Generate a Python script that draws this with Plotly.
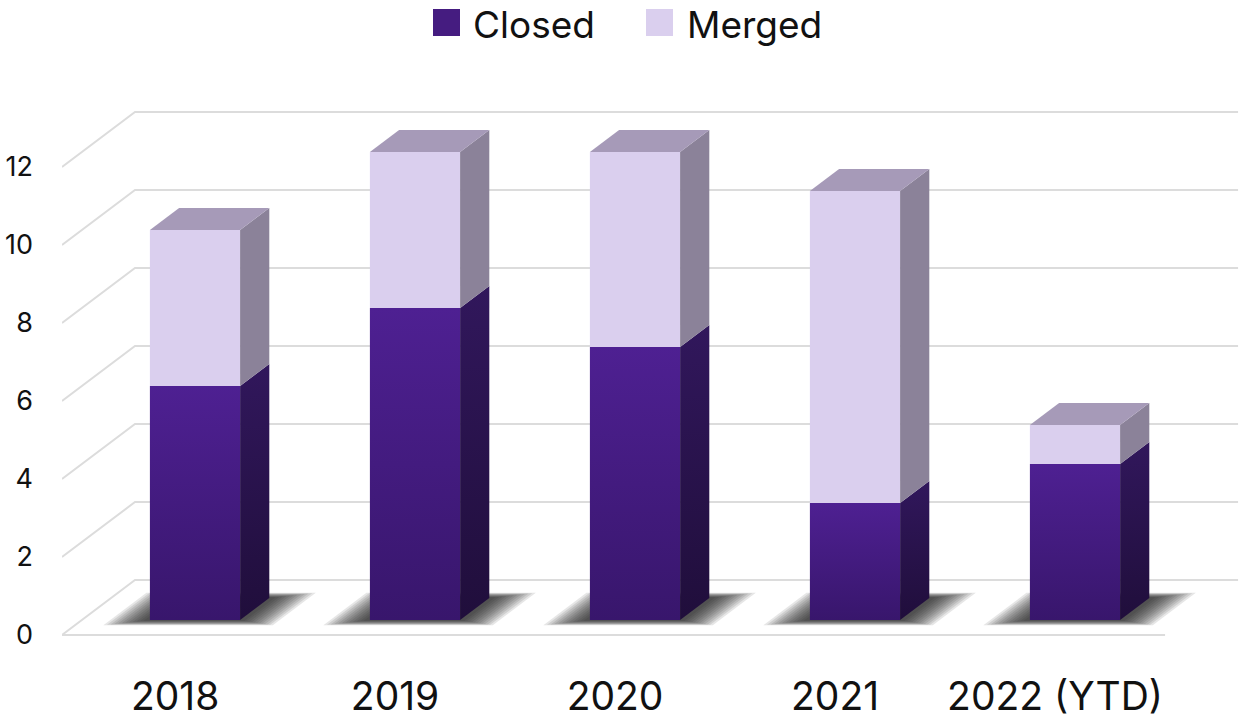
import plotly.graph_objects as go

# ---- data ----
years = ["2018", "2019", "2020", "2021", "2022 (YTD)"]
closed = [6, 8, 7, 3, 4]
merged = [4, 4, 5, 8, 1]
y_ticks = [0, 2, 4, 6, 8, 10, 12]
series_names = ["Closed", "Merged"]

# ---- pseudo-3D oblique projection ----
# Axis coordinates are the bar front plane: x in category units, y in value units.
KX, KY = 0.3318, 1.41          # screen shift across the full floor depth
D_FRONT, D_BACK = 0.273, 0.673  # depth of bar front / back faces
HALF_W = 0.205                  # half bar width (category units)
BOX_L, BOX_R = -0.514, 4.5      # floor/wall extent in category units

GRID = "#dcdcdc"
CLOSED_FRONT = ["#38166c", "#4e2092"]   # bottom, top
CLOSED_SIDE = ["#200e3b", "#31175c"]
MERGED_FRONT = "#dacfee"
MERGED_SIDE = "#8b8299"
TOP_FACE = "#a69ab8"


def proj(c, v, d):
    return c + (d - D_FRONT) * KX, v + (d - D_FRONT) * KY


def poly(points):
    xs, ys = [], []
    for c, v, d in points:
        x, y = proj(c, v, d)
        xs.append(x)
        ys.append(y)
    xs.append(xs[0])
    ys.append(ys[0])
    return xs, ys


fig = go.Figure()

# ---- back wall grid, left wall diagonals and floor front edge ----
gx, gy = [], []
for v in y_ticks:
    for pt in [(BOX_L, v, 0.0), (BOX_L, v, 1.0), (BOX_R, v, 1.0)]:
        x, y = proj(*pt)
        gx.append(x)
        gy.append(y)
    gx.append(None)
    gy.append(None)
for pt in [(BOX_L, 0, 0.0), (BOX_R, 0, 0.0)]:
    x, y = proj(*pt)
    gx.append(x)
    gy.append(y)
fig.add_trace(go.Scatter(x=gx, y=gy, mode="lines",
                         line=dict(color=GRID, width=2),
                         hoverinfo="skip", showlegend=False))

# ---- soft floor shadows (many stacked translucent layers fake a blur) ----
n_layers = 12
shadow_layers = [(0.17 * (1 - k / n_layers) + 0.01, 0.09 * (1 - k / n_layers) + 0.005)
                 for k in range(n_layers)]
for i in range(len(years)):
    for ec, ed in shadow_layers:
        xs, ys = poly([(i - HALF_W - ec, 0, D_FRONT - ed),
                       (i + HALF_W + ec, 0, D_FRONT - ed),
                       (i + HALF_W + ec, 0, D_BACK + ed),
                       (i - HALF_W - ec, 0, D_BACK + ed)])
        fig.add_trace(go.Scatter(x=xs, y=ys, mode="lines", fill="toself",
                                 fillcolor="rgba(30,30,30,0.11)",
                                 line=dict(width=0), hoverinfo="skip",
                                 showlegend=False))

# ---- stacked 3D bars ----
for i, year in enumerate(years):
    l, r = i - HALF_W, i + HALF_W
    segments = [(0, closed[i], "Closed"), (closed[i], closed[i] + merged[i], "Merged")]
    for v0, v1, name in segments:
        # front face
        xs, ys = poly([(l, v0, D_FRONT), (r, v0, D_FRONT), (r, v1, D_FRONT), (l, v1, D_FRONT)])
        if name == "Closed":
            fig.add_trace(go.Scatter(
                x=xs, y=ys, mode="lines", fill="toself", line=dict(width=0),
                fillgradient=dict(type="vertical",
                                  colorscale=[[0, CLOSED_FRONT[0]], [1, CLOSED_FRONT[1]]]),
                name=name, hovertext=f"{year} {name}: {v1 - v0}", hoverinfo="text",
                showlegend=False))
        else:
            fig.add_trace(go.Scatter(
                x=xs, y=ys, mode="lines", fill="toself", line=dict(width=0),
                fillcolor=MERGED_FRONT,
                name=name, hovertext=f"{year} {name}: {v1 - v0}", hoverinfo="text",
                showlegend=False))
        # right side face
        xs, ys = poly([(r, v0, D_FRONT), (r, v0, D_BACK), (r, v1, D_BACK), (r, v1, D_FRONT)])
        if name == "Closed":
            fig.add_trace(go.Scatter(
                x=xs, y=ys, mode="lines", fill="toself", line=dict(width=0),
                fillgradient=dict(type="vertical",
                                  colorscale=[[0, CLOSED_SIDE[0]], [1, CLOSED_SIDE[1]]]),
                hoverinfo="skip", showlegend=False))
        else:
            fig.add_trace(go.Scatter(
                x=xs, y=ys, mode="lines", fill="toself", line=dict(width=0),
                fillcolor=MERGED_SIDE, hoverinfo="skip", showlegend=False))
    # top face
    top = closed[i] + merged[i]
    xs, ys = poly([(l, top, D_FRONT), (r, top, D_FRONT), (r, top, D_BACK), (l, top, D_BACK)])
    fig.add_trace(go.Scatter(x=xs, y=ys, mode="lines", fill="toself",
                             line=dict(width=0), fillcolor=TOP_FACE,
                             hoverinfo="skip", showlegend=False))

# ---- layout ----
W, H = 1241, 720
ML, MB = 62, 70
PX_PER_CAT, PX_PER_VAL = 220.0, 39.0
X0_PX, Y0_PX = 195.0, 620.0     # pixel of category 0 / value 0 on the bar front plane
plot_h = H - MB

x_range = [(ML - X0_PX) / PX_PER_CAT, (W - X0_PX) / PX_PER_CAT]
y_range = [(Y0_PX - plot_h) / PX_PER_VAL, Y0_PX / PX_PER_VAL]

FONT = "Inter, Lato, sans-serif"


def paper_x(px):
    return (px - ML) / (W - ML)


def paper_y(py):
    return (plot_h - py) / plot_h


legend_colors = ["#451c80", MERGED_FRONT]
legend_boxes = [433, 646]
legend_text_x = [471, 685]
shapes, annotations = [], []
for name, col, bx, tx in zip(series_names, legend_colors, legend_boxes, legend_text_x):
    shapes.append(dict(type="rect", xref="paper", yref="paper",
                       x0=paper_x(bx), x1=paper_x(bx + 27),
                       y0=paper_y(36), y1=paper_y(9),
                       fillcolor=col, line=dict(width=0)))
    annotations.append(dict(text=name, xref="paper", yref="paper",
                            x=paper_x(tx), y=paper_y(24), xanchor="left", yanchor="middle",
                            showarrow=False, font=dict(family=FONT, size=37, color="#111111")))

fig.update_layout(
    width=W, height=H,
    margin=dict(l=ML, r=0, t=0, b=MB),
    paper_bgcolor="white", plot_bgcolor="white",
    showlegend=False,
    shapes=shapes, annotations=annotations,
    xaxis=dict(range=x_range, showgrid=False, zeroline=False, showline=False,
               tickmode="array",
               tickvals=[i - D_FRONT * KX for i in range(len(years))],
               ticktext=years, ticks="", ticklabelstandoff=20, automargin=False,
               tickfont=dict(family=FONT, size=39, color="#111111"),
               fixedrange=True),
    yaxis=dict(range=y_range, showgrid=False, zeroline=False, showline=False,
               tickmode="array",
               tickvals=[v - D_FRONT * KY for v in y_ticks],
               ticktext=[str(v) for v in y_ticks], ticks="",
               ticklabelstandoff=28, automargin=False,
               tickfont=dict(family=FONT, size=27, color="#111111"),
               fixedrange=True),
)

fig.write_html("out.html")
